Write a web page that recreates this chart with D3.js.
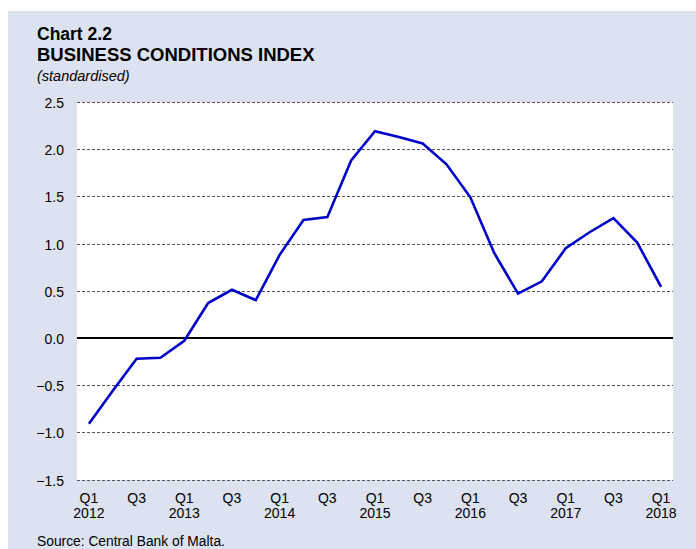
<!DOCTYPE html>
<html>
<head>
<meta charset="utf-8">
<script src="https://cdn.jsdelivr.net/npm/d3@7"></script>
<style>
    body { margin: 0; background: #fff; }
    svg { display: block; font-family: 'Liberation Sans', Arial, sans-serif; }
</style>
</head>
<body>
<div id="chart"></div>
<script>
// quarters from Q1 2012 to Q1 2018
const quarters = [
    '2012Q1', '2012Q2', '2012Q3', '2012Q4',
    '2013Q1', '2013Q2', '2013Q3', '2013Q4',
    '2014Q1', '2014Q2', '2014Q3', '2014Q4',
    '2015Q1', '2015Q2', '2015Q3', '2015Q4',
    '2016Q1', '2016Q2', '2016Q3', '2016Q4',
    '2017Q1', '2017Q2', '2017Q3', '2017Q4',
    '2018Q1',
];
const bciValues = [
    -0.91, -0.56, -0.22, -0.21,
    -0.03, 0.37, 0.51, 0.40,
    0.88, 1.25, 1.28, 1.88,
    2.19, 2.13, 2.06, 1.84,
    1.49, 0.90, 0.47, 0.60,
    0.95, 1.12, 1.27, 1.01,
    0.54,
];
const yTicks = [2.5, 2.0, 1.5, 1.0, 0.5, 0.0, -0.5, -1.0, -1.5];

const width = 696;
const height = 549;
const plot = { left: 77, right: 673, top: 102, bottom: 480 };

const svg = d3
    .select('#chart')
    .append('svg')
    .attr('width', width)
    .attr('height', height);

// panel background
svg.append('rect')
    .attr('x', 8)
    .attr('y', 11)
    .attr('width', width - 8)
    .attr('height', height - 11)
    .style('fill', '#dce2ef');

svg.append('rect')
    .attr('x', plot.left)
    .attr('y', plot.top)
    .attr('width', plot.right - plot.left)
    .attr('height', plot.bottom - plot.top)
    .style('fill', '#fff');

// titles
svg.append('text').attr('x', 37).attr('y', 39.5)
    .style('font-size', '17.5px').style('font-weight', 'bold')
    .text('Chart 2.2');
svg.append('text').attr('x', 37).attr('y', 61)
    .style('font-size', '18.5px').style('font-weight', 'bold')
    .text('BUSINESS CONDITIONS INDEX');
svg.append('text').attr('x', 37).attr('y', 81)
    .style('font-size', '14.5px').style('font-style', 'italic')
    .text('(standardised)');

const x = d3.scalePoint()
    .domain(quarters)
    .range([plot.left, plot.right])
    .padding(0.5);

const y = d3.scaleLinear()
    .domain([-1.5, 2.5])
    .range([plot.bottom - 0.5, plot.top]);

// gridlines
svg.selectAll('.grid')
    .data(yTicks.filter((d) => d !== 0))
    .enter()
    .append('line')
    .attr('class', 'grid')
    .attr('x1', plot.left)
    .attr('x2', plot.right)
    .attr('y1', (d) => Math.round(y(d)) + 0.5)
    .attr('y2', (d) => Math.round(y(d)) + 0.5)
    .style('stroke', '#555')
    .style('stroke-width', 1)
    .style('stroke-dasharray', '3,2');

svg.append('line')
    .attr('x1', plot.left)
    .attr('x2', plot.right)
    .attr('y1', y(0))
    .attr('y2', y(0))
    .style('stroke', '#000')
    .style('stroke-width', 2);

// y labels
svg.selectAll('.yLabel')
    .data(yTicks)
    .enter()
    .append('text')
    .attr('class', 'yLabel')
    .attr('x', 64)
    .attr('y', (d) => y(d) + 6)
    .style('text-anchor', 'end')
    .style('font-size', '14px')
    .text((d) => d3.format('.1f')(d));

// x labels every second quarter
const labelled = quarters.filter((q, i) => i % 2 === 0);
svg.selectAll('.xLabel')
    .data(labelled)
    .enter()
    .append('text')
    .attr('class', 'xLabel')
    .attr('x', (d) => x(d))
    .attr('y', 503)
    .style('text-anchor', 'middle')
    .style('font-size', '14px')
    .text((d) => d.slice(4));

svg.selectAll('.yearLabel')
    .data(labelled.filter((d) => d.endsWith('Q1')))
    .enter()
    .append('text')
    .attr('class', 'yearLabel')
    .attr('x', (d) => x(d))
    .attr('y', 518)
    .style('text-anchor', 'middle')
    .style('font-size', '14px')
    .text((d) => d.slice(0, 4));

// the index line
const line = d3.line()
    .x((d, i) => x(quarters[i]))
    .y((d) => y(d));

svg.append('path')
    .datum(bciValues)
    .attr('d', line)
    .style('fill', 'none')
    .style('stroke', '#0000c8')
    .style('stroke-width', 2.6)
    .style('stroke-linejoin', 'miter');

svg.append('text').attr('x', 37).attr('y', 546)
    .style('font-size', '13.8px')
    .text('Source: Central Bank of Malta.');
</script>
</body>
</html>
